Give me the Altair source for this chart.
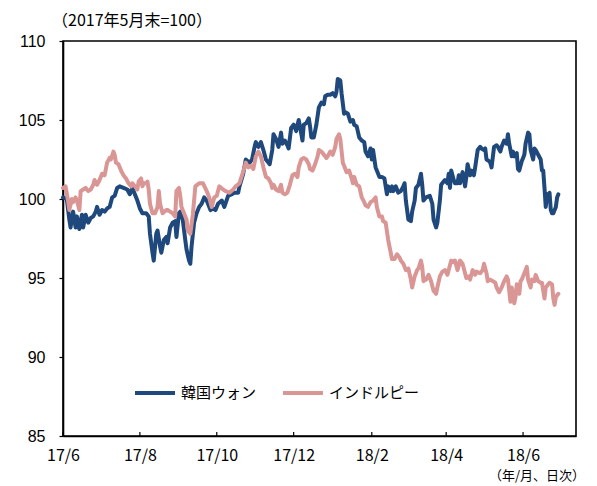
import altair as alt
import pandas as pd

# ---- data (index, end of May 2017 = 100) ----
series_names = ["韓国ウォン", "インドルピー"]
series_colors = ["#1F497D", "#D99694"]

won_dates = [
    "2017-06-01", "2017-06-04", "2017-06-06", "2017-06-07", "2017-06-09", "2017-06-11", "2017-06-12",
    "2017-06-14", "2017-06-16", "2017-06-17", "2017-06-19", "2017-06-21", "2017-06-23", "2017-06-25",
    "2017-06-27", "2017-06-28", "2017-06-30", "2017-07-02", "2017-07-04", "2017-07-06", "2017-07-08",
    "2017-07-10", "2017-07-12", "2017-07-14", "2017-07-16", "2017-07-19", "2017-07-22", "2017-07-24",
    "2017-07-26", "2017-07-28", "2017-07-30", "2017-08-01", "2017-08-03", "2017-08-06", "2017-08-08",
    "2017-08-09", "2017-08-11", "2017-08-12", "2017-08-14", "2017-08-15", "2017-08-17", "2017-08-18",
    "2017-08-20", "2017-08-22", "2017-08-23", "2017-08-25", "2017-08-27", "2017-08-29", "2017-08-30",
    "2017-09-01", "2017-09-02", "2017-09-04", "2017-09-06", "2017-09-07", "2017-09-09", "2017-09-10",
    "2017-09-11", "2017-09-13", "2017-09-15", "2017-09-17", "2017-09-19", "2017-09-21", "2017-09-23",
    "2017-09-26", "2017-09-28", "2017-09-30", "2017-10-02", "2017-10-05", "2017-10-07", "2017-10-10",
    "2017-10-13", "2017-10-15", "2017-10-18", "2017-10-19", "2017-10-22", "2017-10-24", "2017-10-27",
    "2017-10-29", "2017-10-31", "2017-11-01", "2017-11-03", "2017-11-05", "2017-11-07", "2017-11-09",
    "2017-11-12", "2017-11-14", "2017-11-15", "2017-11-17", "2017-11-19", "2017-11-21", "2017-11-22",
    "2017-11-24", "2017-11-26", "2017-11-27", "2017-11-29", "2017-12-01", "2017-12-03", "2017-12-05",
    "2017-12-06", "2017-12-08", "2017-12-09", "2017-12-11", "2017-12-13", "2017-12-14", "2017-12-15",
    "2017-12-17", "2017-12-19", "2017-12-21", "2017-12-23", "2017-12-25", "2017-12-26", "2017-12-28",
    "2017-12-30", "2018-01-01", "2018-01-03", "2018-01-04", "2018-01-05", "2018-01-07", "2018-01-08",
    "2018-01-10", "2018-01-11", "2018-01-13", "2018-01-15", "2018-01-17", "2018-01-18", "2018-01-20",
    "2018-01-22", "2018-01-24", "2018-01-26", "2018-01-27", "2018-01-29", "2018-01-31", "2018-02-01",
    "2018-02-02", "2018-02-04", "2018-02-05", "2018-02-07", "2018-02-09", "2018-02-11", "2018-02-13",
    "2018-02-14", "2018-02-16", "2018-02-17", "2018-02-18", "2018-02-20", "2018-02-22", "2018-02-24",
    "2018-02-26", "2018-02-27", "2018-02-28", "2018-03-02", "2018-03-04", "2018-03-05", "2018-03-07",
    "2018-03-08", "2018-03-10", "2018-03-12", "2018-03-13", "2018-03-14", "2018-03-16", "2018-03-19",
    "2018-03-21", "2018-03-22", "2018-03-24", "2018-03-25", "2018-03-27", "2018-03-28", "2018-03-30",
    "2018-03-31", "2018-04-02", "2018-04-03", "2018-04-04", "2018-04-05", "2018-04-07", "2018-04-08",
    "2018-04-10", "2018-04-11", "2018-04-12", "2018-04-14", "2018-04-16", "2018-04-17", "2018-04-18",
    "2018-04-20", "2018-04-21", "2018-04-23", "2018-04-24", "2018-04-26", "2018-04-28", "2018-04-29",
    "2018-05-01", "2018-05-02", "2018-05-03", "2018-05-05", "2018-05-06", "2018-05-07", "2018-05-09",
    "2018-05-11", "2018-05-12", "2018-05-14", "2018-05-15", "2018-05-17", "2018-05-19", "2018-05-20",
    "2018-05-21", "2018-05-23", "2018-05-24", "2018-05-25", "2018-05-27", "2018-05-28", "2018-05-29",
    "2018-05-31", "2018-06-01", "2018-06-02", "2018-06-03", "2018-06-05", "2018-06-06", "2018-06-07",
    "2018-06-09", "2018-06-10", "2018-06-11", "2018-06-13", "2018-06-15", "2018-06-16", "2018-06-17",
    "2018-06-18", "2018-06-19", "2018-06-20", "2018-06-21", "2018-06-22", "2018-06-23", "2018-06-24",
    "2018-06-25", "2018-06-27", "2018-06-28", "2018-06-29",
]
won_values = [
    100.1, 100.0, 98.7, 98.2, 99.2, 98.2, 98.9,
    98.1, 99.0, 98.2, 99.0, 98.5, 98.8, 98.9,
    99.2, 99.5, 99.0, 99.3, 99.2, 99.4, 99.5,
    100.1, 100.2, 100.7, 100.8, 100.7, 100.6, 100.3,
    100.7, 100.3, 99.9, 99.4, 99.1, 99.1, 98.9,
    97.8, 96.6, 96.1, 97.8, 98.0, 97.0, 96.6,
    97.4, 97.6, 97.2, 98.2, 98.5, 98.6, 97.6,
    99.1, 99.2, 98.7, 97.4, 96.8, 96.1, 95.9,
    97.0, 98.5, 99.1, 99.5, 99.7, 100.1, 99.9,
    99.3, 99.4, 99.3, 99.7, 99.9, 99.5, 100.2,
    100.3, 100.4, 100.4, 100.8, 101.6, 102.5, 102.3,
    102.5, 103.3, 103.6, 103.3, 103.6, 103.1, 102.5,
    102.2, 103.1, 104.1, 103.8, 103.3, 104.2, 103.5,
    103.7, 103.4, 103.2, 104.5, 104.7, 104.3, 105.0,
    104.6, 103.7, 104.7, 104.8, 105.1, 104.6, 103.9,
    103.9, 104.7, 105.8, 106.1, 106.0, 106.5, 106.6,
    106.6, 106.7, 106.5, 106.8, 107.6, 107.5, 106.7,
    105.4, 105.5, 105.4, 104.9, 105.0, 104.7, 104.6,
    103.9, 103.7, 103.6, 103.0, 102.7, 103.2, 102.5,
    103.1, 102.0, 101.8, 101.4, 101.4, 101.3, 100.3,
    100.8, 100.5, 100.8, 100.5, 100.8, 100.4, 100.5,
    100.8, 101.0, 99.9, 98.7, 98.6, 99.2, 99.9,
    100.7, 100.9, 101.6, 100.9, 99.9, 100.1, 100.2,
    99.7, 98.7, 98.2, 98.5, 99.9, 100.9, 101.1,
    101.2, 101.0, 101.6, 100.7, 101.8, 101.2, 101.0,
    101.0, 101.5, 101.0, 101.7, 100.8, 101.4, 102.2,
    101.5, 101.8, 101.5, 102.0, 103.1, 103.3, 103.2,
    103.1, 103.2, 102.5, 102.4, 102.3, 102.0, 103.3,
    103.4, 103.3, 103.0, 103.3, 103.7, 103.5, 104.1,
    103.5, 102.7, 103.0, 102.7, 102.9, 101.9, 101.8,
    102.4, 102.6, 102.8, 103.5, 104.2, 104.1, 103.1,
    102.5, 103.2, 103.1, 102.8, 102.5, 101.8, 101.8,
    100.7, 99.5, 100.3, 100.1, 100.4, 99.3, 99.1,
    99.1, 99.5, 100.1, 100.3,
]

inr_dates = [
    "2017-06-01", "2017-06-03", "2017-06-05", "2017-06-06", "2017-06-08", "2017-06-09", "2017-06-11",
    "2017-06-12", "2017-06-14", "2017-06-15", "2017-06-17", "2017-06-19", "2017-06-21", "2017-06-23",
    "2017-06-25", "2017-06-26", "2017-06-28", "2017-06-30", "2017-07-02", "2017-07-04", "2017-07-06",
    "2017-07-08", "2017-07-09", "2017-07-11", "2017-07-12", "2017-07-13", "2017-07-15", "2017-07-17",
    "2017-07-19", "2017-07-21", "2017-07-23", "2017-07-25", "2017-07-26", "2017-07-28", "2017-07-30",
    "2017-07-31", "2017-08-02", "2017-08-03", "2017-08-04", "2017-08-06", "2017-08-07", "2017-08-08",
    "2017-08-09", "2017-08-11", "2017-08-13", "2017-08-15", "2017-08-16", "2017-08-17", "2017-08-19",
    "2017-08-22", "2017-08-23", "2017-08-25", "2017-08-27", "2017-08-29", "2017-08-30", "2017-09-01",
    "2017-09-02", "2017-09-03", "2017-09-05", "2017-09-07", "2017-09-08", "2017-09-10", "2017-09-12",
    "2017-09-14", "2017-09-17", "2017-09-20", "2017-09-23", "2017-09-25", "2017-09-27", "2017-09-29",
    "2017-10-01", "2017-10-03", "2017-10-06", "2017-10-08", "2017-10-11", "2017-10-14", "2017-10-16",
    "2017-10-19", "2017-10-21", "2017-10-23", "2017-10-24", "2017-10-26", "2017-10-28", "2017-10-30",
    "2017-11-01", "2017-11-03", "2017-11-05", "2017-11-07", "2017-11-09", "2017-11-11", "2017-11-13",
    "2017-11-14", "2017-11-15", "2017-11-17", "2017-11-19", "2017-11-21", "2017-11-22", "2017-11-24",
    "2017-11-26", "2017-11-28", "2017-11-30", "2017-12-02", "2017-12-04", "2017-12-05", "2017-12-07",
    "2017-12-09", "2017-12-11", "2017-12-13", "2017-12-14", "2017-12-16", "2017-12-18", "2017-12-20",
    "2017-12-21", "2017-12-23", "2017-12-25", "2017-12-27", "2017-12-28", "2017-12-30", "2018-01-01",
    "2018-01-03", "2018-01-04", "2018-01-06", "2018-01-07", "2018-01-09", "2018-01-10", "2018-01-12",
    "2018-01-14", "2018-01-16", "2018-01-17", "2018-01-18", "2018-01-20", "2018-01-22", "2018-01-24",
    "2018-01-26", "2018-01-27", "2018-01-29", "2018-01-31", "2018-02-02", "2018-02-04", "2018-02-05",
    "2018-02-07", "2018-02-09", "2018-02-10", "2018-02-12", "2018-02-14", "2018-02-16", "2018-02-17",
    "2018-02-19", "2018-02-21", "2018-02-23", "2018-02-24", "2018-02-26", "2018-02-28", "2018-03-02",
    "2018-03-04", "2018-03-05", "2018-03-07", "2018-03-09", "2018-03-10", "2018-03-12", "2018-03-13",
    "2018-03-14", "2018-03-16", "2018-03-18", "2018-03-20", "2018-03-22", "2018-03-24", "2018-03-25",
    "2018-03-27", "2018-03-29", "2018-03-31", "2018-04-02", "2018-04-03", "2018-04-05", "2018-04-07",
    "2018-04-08", "2018-04-10", "2018-04-12", "2018-04-14", "2018-04-16", "2018-04-17", "2018-04-19",
    "2018-04-20", "2018-04-22", "2018-04-24", "2018-04-25", "2018-04-28", "2018-04-30", "2018-05-01",
    "2018-05-03", "2018-05-04", "2018-05-06", "2018-05-08", "2018-05-10", "2018-05-11", "2018-05-13",
    "2018-05-15", "2018-05-17", "2018-05-19", "2018-05-20", "2018-05-22", "2018-05-23", "2018-05-25",
    "2018-05-26", "2018-05-27", "2018-05-29", "2018-05-30", "2018-05-31", "2018-06-02", "2018-06-04",
    "2018-06-05", "2018-06-07", "2018-06-08", "2018-06-10", "2018-06-11", "2018-06-13", "2018-06-15",
    "2018-06-16", "2018-06-18", "2018-06-19", "2018-06-21", "2018-06-22", "2018-06-24", "2018-06-25",
    "2018-06-26", "2018-06-27", "2018-06-29",
]
inr_values = [
    100.7, 100.8, 99.9, 99.3, 100.0, 99.8, 100.1,
    99.9, 99.3, 100.5, 100.6, 100.7, 100.5, 100.6,
    100.9, 101.2, 100.9, 101.2, 101.6, 101.5, 102.3,
    102.6, 102.5, 103.0, 102.8, 102.3, 102.2, 101.8,
    101.5, 101.3, 101.0, 100.8, 101.0, 100.8, 100.6,
    101.1, 101.3, 100.8, 101.0, 101.0, 101.1, 100.6,
    99.7, 99.1, 99.1, 99.5, 100.5, 99.7, 99.1,
    99.3, 99.3, 99.2, 99.1, 98.9, 100.5, 100.7,
    100.2, 99.5, 99.1, 98.7, 98.0, 97.8, 99.0,
    100.8, 101.0, 101.0, 100.5, 100.1, 99.5, 100.1,
    100.2, 100.8, 100.6, 100.5, 100.4, 100.6, 100.8,
    101.0, 101.5, 102.0, 102.3, 102.0, 102.1, 101.9,
    102.7, 103.0, 102.7, 102.0, 101.4, 101.3, 101.0,
    100.7, 100.9, 100.6, 100.5, 100.9, 100.4, 100.3,
    100.4, 100.9, 101.5, 101.6, 101.4, 102.0, 102.5,
    102.6, 102.5, 102.2, 101.9, 101.8, 102.2, 102.7,
    103.1, 103.0, 102.8, 102.6, 102.7, 103.0, 102.8,
    103.3, 103.8, 104.1, 103.8, 102.3, 102.1, 101.7,
    101.8, 101.3, 101.0, 101.4, 100.9, 100.8, 100.1,
    99.8, 99.6, 99.5, 99.8, 99.9, 100.1, 99.5,
    98.9, 98.9, 98.6, 98.5, 97.4, 96.6, 96.2,
    96.2, 96.5, 96.3, 96.1, 95.9, 95.5, 95.6,
    94.9, 94.4, 95.1, 95.5, 95.6, 96.1, 95.7,
    94.8, 94.9, 95.2, 94.8, 94.2, 94.0, 94.4,
    95.1, 95.4, 95.5, 95.2, 95.5, 96.1, 96.0,
    96.1, 95.5, 96.1, 95.9, 95.3, 95.0, 95.1,
    94.9, 95.5, 95.2, 95.4, 95.3, 95.5, 95.9,
    95.3, 94.8, 94.9, 94.8, 94.7, 94.4, 94.1,
    94.4, 94.8, 95.1, 94.9, 93.5, 94.4, 93.4,
    93.8, 94.6, 94.0, 94.8, 94.9, 95.3, 95.7,
    94.9, 94.4, 94.9, 94.8, 95.2, 94.8, 94.7,
    94.7, 93.7, 94.4, 94.6, 94.7, 94.6, 93.7,
    93.3, 93.8, 94.0,
]

x_tick_dates = ["2017-06-01", "2017-08-01", "2017-10-01", "2017-12-01",
                "2018-02-01", "2018-04-01", "2018-06-01"]
x_domain = ["2017-06-01", "2018-07-13"]
y_ticks = [85, 90, 95, 100, 105, 110]
y_domain = [85, 110]
title_text = "（2017年5月末=100）"
axis_note = "（年/月、日次）"

# ---- build tables ----
df = pd.concat([
    pd.DataFrame({"date": pd.to_datetime(won_dates), "value": won_values, "series": series_names[0]}),
    pd.DataFrame({"date": pd.to_datetime(inr_dates), "value": inr_values, "series": series_names[1]}),
], ignore_index=True)
ticks_df = pd.DataFrame({"date": pd.to_datetime(x_tick_dates)})
note_df = pd.DataFrame({"t": [axis_note]})
title_df = pd.DataFrame({"t": [title_text]})


def to_dt(s):
    return alt.DateTime(year=int(s[:4]), month=int(s[5:7]), date=int(s[8:10]))


x_scale = alt.Scale(domain=[to_dt(d) for d in x_domain])
y_scale = alt.Scale(domain=y_domain, nice=False, zero=False)

JP = "Noto Sans CJK JP"

lines = alt.Chart(df).mark_line(strokeWidth=4, strokeJoin="round", strokeCap="round").encode(
    x=alt.X("date:T", scale=x_scale, title=None,
            axis=alt.Axis(values=[to_dt(d) for d in x_tick_dates], format="%y/%-m",
                          ticks=False, tickSize=0, labelPadding=11, grid=False,
                          labelFont=JP, labelFontSize=16, labelColor="black",
                          domainColor="black", domainWidth=1.6, labelFlush=False)),
    y=alt.Y("value:Q", scale=y_scale, title=None,
            axis=alt.Axis(values=y_ticks, tickSize=4, tickColor="black", tickWidth=1.2,
                          labelPadding=14, grid=False, labelFont="Liberation Sans",
                          labelFontSize=16, labelColor="black",
                          domainColor="black", domainWidth=1.6)),
    color=alt.Color("series:N",
                    scale=alt.Scale(domain=series_names, range=series_colors),
                    legend=alt.Legend(title=None, orient="none", legendX=70, legendY=330,
                                      direction="horizontal", symbolType="stroke",
                                      symbolSize=1600, symbolStrokeWidth=4,
                                      labelFont=JP, labelFontSize=15, labelColor="black",
                                      labelOffset=4, columnPadding=18, padding=0)),
)

xticks = alt.Chart(ticks_df).mark_rule(color="black", strokeWidth=1.2).encode(
    x=alt.X("date:T", scale=x_scale),
    y=alt.value(395),
    y2=alt.value(391),
)

note = alt.Chart(note_df).mark_text(align="right", baseline="middle", font=JP,
                                    fontSize=13, color="black").encode(
    text="t:N",
    x=alt.value(522),
    y=alt.value(435),
)

title = alt.Chart(title_df).mark_text(align="left", baseline="middle", font=JP,
                                      fontSize=16, color="black").encode(
    text="t:N",
    x=alt.value(-11),
    y=alt.value(-20),
)

chart = alt.layer(lines, xticks, note, title).properties(
    width=513,
    height=395,
    autosize=alt.AutoSizeParams(type="none"),
    padding={"left": 55, "top": 33, "right": 12, "bottom": 50},
).configure_view(stroke="black", strokeWidth=1.6).configure_axis(labelColor="black")

chart.save("out.html", embed_options={"renderer": "svg", "actions": False})
